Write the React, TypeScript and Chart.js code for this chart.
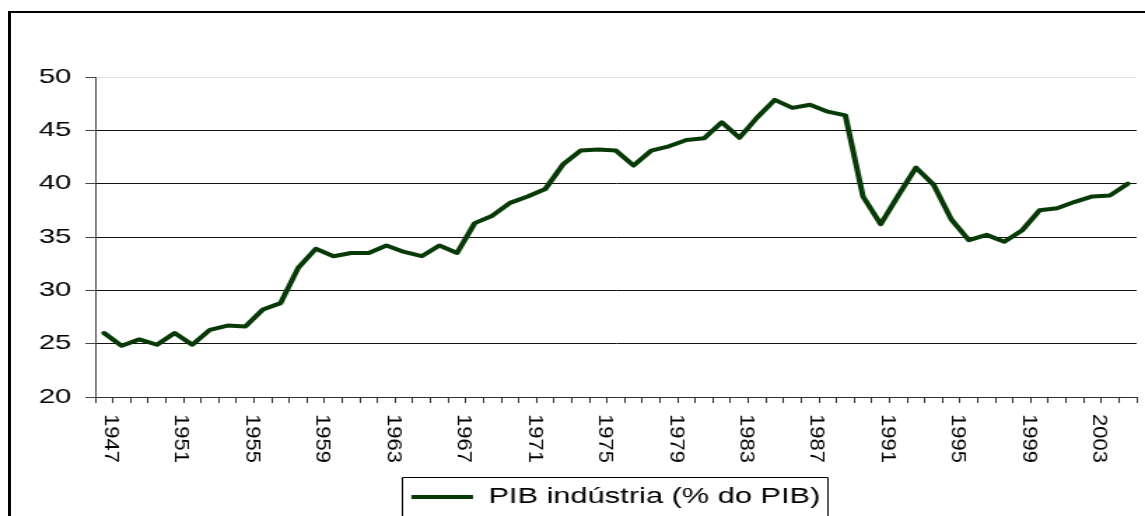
import { useEffect, useRef } from "react";
import { Chart, registerables } from "chart.js";

Chart.register(...registerables);

const years = [
  "1947", "1948", "1949", "1950", "1951", "1952", "1953", "1954", "1955", "1956",
  "1957", "1958", "1959", "1960", "1961", "1962", "1963", "1964", "1965", "1966",
  "1967", "1968", "1969", "1970", "1971", "1972", "1973", "1974", "1975", "1976",
  "1977", "1978", "1979", "1980", "1981", "1982", "1983", "1984", "1985", "1986",
  "1987", "1988", "1989", "1990", "1991", "1992", "1993", "1994", "1995", "1996",
  "1997", "1998", "1999", "2000", "2001", "2002", "2003", "2004", "2005",
];

const industryShare = [
  26.0, 24.8, 25.4, 24.9, 26.0, 24.9, 26.3, 26.7, 26.6, 28.2,
  28.8, 32.1, 33.9, 33.2, 33.5, 33.5, 34.2, 33.6, 33.2, 34.2,
  33.5, 36.3, 37.0, 38.2, 38.8, 39.5, 41.8, 43.1, 43.2, 43.1,
  41.7, 43.1, 43.5, 44.1, 44.25, 45.75, 44.3, 46.2, 47.85, 47.1,
  47.4, 46.75, 46.4, 38.8, 36.2, 38.9, 41.5, 39.9, 36.65, 34.7,
  35.2, 34.56, 35.6, 37.5, 37.7, 38.3, 38.8, 38.9, 40.0,
];

const xTickLabels = [
  "1947", "1951", "1955", "1959", "1963", "1967", "1971", "1975",
  "1979", "1983", "1987", "1991", "1995", "1999", "2003",
];

const yTicks = [20, 25, 30, 35, 40, 45, 50];

const seriesLabel = "PIB indústria (% do PIB)";

const DESIGN_W = 818;
const DESIGN_H = 516;
const STRETCH = 1145 / DESIGN_W;

const FONT = '"Liberation Sans", Arial, sans-serif';

const xLabelPlugin = {
  id: "xLabelPlugin",
  afterDraw(chart: any) {
    const ctx = chart.ctx as CanvasRenderingContext2D;
    const xs = chart.scales.x;
    ctx.save();
    ctx.fillStyle = "#000";
    ctx.font = `22px ${FONT}`;
    ctx.textAlign = "left";
    ctx.textBaseline = "alphabetic";
    for (const lab of xTickLabels) {
      const idx = years.indexOf(lab);
      const px = xs.getPixelForValue(idx) + 0.7;
      ctx.save();
      ctx.translate(px, chart.chartArea.bottom + 17);
      ctx.rotate(Math.PI / 2);
      ctx.scale(1, 0.64);
      ctx.fillText(lab, 0, 0);
      ctx.restore();
    }
    ctx.restore();
  },
};

const legendBoxPlugin = {
  id: "legendBoxPlugin",
  afterDraw(chart: any) {
    const lg = chart.legend;
    if (!lg || !lg.legendHitBoxes || !lg.legendHitBoxes.length) return;
    const hb = lg.legendHitBoxes[0];
    const ctx = chart.ctx as CanvasRenderingContext2D;
    ctx.save();
    ctx.strokeStyle = "#000";
    ctx.lineWidth = 1;
    const left = Math.round(hb.left - 7) + 0.5;
    const right = Math.round(hb.left + hb.width + 5) + 0.5;
    const top = Math.round(hb.top - 9) + 0.5;
    ctx.beginPath();
    ctx.moveTo(left, DESIGN_H + 20);
    ctx.lineTo(left, top);
    ctx.lineTo(right, top);
    ctx.lineTo(right, DESIGN_H + 20);
    ctx.stroke();
    ctx.restore();
  },
};

export default function App() {
  const canvasRef = useRef<HTMLCanvasElement | null>(null);

  useEffect(() => {
    const canvas = canvasRef.current;
    if (!canvas) return;
    const chart = new Chart(canvas, {
      type: "line",
      data: {
        labels: years,
        datasets: [
          {
            label: seriesLabel,
            data: industryShare,
            borderColor: "#073a07",
            backgroundColor: "#073a07",
            borderWidth: 4,
            pointRadius: 0,
            pointHoverRadius: 0,
            tension: 0,
            borderJoinStyle: "round",
            borderCapStyle: "round",
            fill: false,
          },
        ],
      },
      options: {
        animation: false,
        responsive: false,
        devicePixelRatio: 1,
        events: [],
        layout: { padding: { top: 77, right: 6, bottom: -2, left: 0 } },
        scales: {
          x: {
            type: "category",
            offset: true,
            afterFit(scale: any) {
              scale.height = 79;
            },
            grid: {
              display: true,
              drawOnChartArea: false,
              drawTicks: true,
              tickLength: 6,
              tickColor: "#333",
              offset: true,
            },
            border: { display: true, color: "#333", width: 1 },
            ticks: { display: false, autoSkip: false },
          },
          y: {
            min: yTicks[0],
            max: yTicks[yTicks.length - 1],
            afterFit(scale: any) {
              scale.width = 68;
            },
            afterBuildTicks(scale: any) {
              scale.ticks = yTicks.map((v) => ({ value: v }));
            },
            grid: {
              color: (c: any) =>
                c.tick && c.tick.value === 50
                  ? "#e2e2e2"
                  : c.tick && c.tick.value === 20
                  ? "#333"
                  : "#111",
              tickColor: "#444",
              tickLength: 7,
              lineWidth: 1,
            },
            border: { display: true, color: "#444", width: 1 },
            ticks: {
              color: "#000",
              padding: 10,
              font: { family: FONT, size: 21 },
              stepSize: 5,
            },
          },
        },
        plugins: {
          legend: {
            display: true,
            position: "bottom",
            fullSize: false,
            labels: {
              color: "#000",
              font: { family: FONT, size: 22 },
              usePointStyle: true,
              pointStyle: "line",
              pointStyleWidth: 44,
              padding: 10,
            },
          },
          tooltip: { enabled: false },
          title: { display: false },
        },
      },
      plugins: [xLabelPlugin, legendBoxPlugin],
    } as any);
    return () => chart.destroy();
  }, []);

  return (
    <div
      style={{
        position: "fixed",
        left: 0,
        top: 0,
        width: 1145,
        height: 516,
        overflow: "hidden",
        background: "#fff",
      }}
    >
      <div
        style={{
          position: "absolute",
          left: 0,
          top: 0,
          width: DESIGN_W,
          height: DESIGN_H,
          transform: `scaleX(${STRETCH})`,
          transformOrigin: "0 0",
        }}
      >
        <canvas
          ref={canvasRef}
          width={DESIGN_W}
          height={DESIGN_H}
          style={{ width: DESIGN_W, height: DESIGN_H, display: "block" }}
        />
      </div>
      <div
        style={{
          position: "absolute",
          left: 8,
          top: 11,
          width: 1300,
          height: 700,
          borderTop: "2px solid #000",
          borderLeft: "3px solid #000",
          boxSizing: "border-box",
          pointerEvents: "none",
        }}
      />
    </div>
  );
}
